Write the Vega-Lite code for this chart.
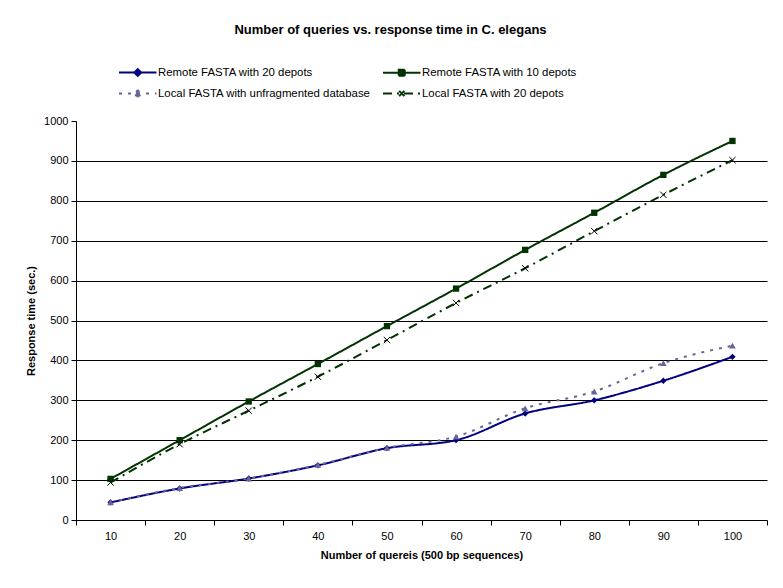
{
  "$schema": "https://vega.github.io/schema/vega-lite/v6.json",
  "autosize": {"type": "none"},
  "width": 691,
  "height": 399,
  "padding": {"left": 76, "top": 121, "right": 16, "bottom": 68},
  "background": "white",
  "config": {
    "view": {"stroke": null},
    "font": "Liberation Sans",
    "axis": {"labelFont": "Liberation Sans", "titleFont": "Liberation Sans", "labelColor": "#000", "titleColor": "#000", "domainColor": "#000", "tickColor": "#000", "labelFontSize": 11, "titleFontSize": 11, "titleFontWeight": "bold"},
    "legend": {"labelFont": "Liberation Sans", "labelFontSize": 11.4, "labelColor": "#000", "labelLimit": 400}
  },
  "title": {"text": "Number of queries vs. response time in C. elegans", "font": "Liberation Sans", "fontSize": 13, "fontWeight": "bold", "color": "#000", "anchor": "middle", "dx": -31, "offset": 27},
  "data": {"values": [
    {"q": 10, "series": "Remote FASTA with 20 depots", "t": 44},
    {"q": 20, "series": "Remote FASTA with 20 depots", "t": 79},
    {"q": 30, "series": "Remote FASTA with 20 depots", "t": 104},
    {"q": 40, "series": "Remote FASTA with 20 depots", "t": 137},
    {"q": 50, "series": "Remote FASTA with 20 depots", "t": 180},
    {"q": 60, "series": "Remote FASTA with 20 depots", "t": 200},
    {"q": 70, "series": "Remote FASTA with 20 depots", "t": 267},
    {"q": 80, "series": "Remote FASTA with 20 depots", "t": 300},
    {"q": 90, "series": "Remote FASTA with 20 depots", "t": 349},
    {"q": 100, "series": "Remote FASTA with 20 depots", "t": 409},
    {"q": 10, "series": "Remote FASTA with 10 depots", "t": 103},
    {"q": 20, "series": "Remote FASTA with 10 depots", "t": 200},
    {"q": 30, "series": "Remote FASTA with 10 depots", "t": 297},
    {"q": 40, "series": "Remote FASTA with 10 depots", "t": 391},
    {"q": 50, "series": "Remote FASTA with 10 depots", "t": 486},
    {"q": 60, "series": "Remote FASTA with 10 depots", "t": 580},
    {"q": 70, "series": "Remote FASTA with 10 depots", "t": 677},
    {"q": 80, "series": "Remote FASTA with 10 depots", "t": 770},
    {"q": 90, "series": "Remote FASTA with 10 depots", "t": 865},
    {"q": 100, "series": "Remote FASTA with 10 depots", "t": 950},
    {"q": 10, "series": "Local FASTA with unfragmented database", "t": 44},
    {"q": 20, "series": "Local FASTA with unfragmented database", "t": 80},
    {"q": 30, "series": "Local FASTA with unfragmented database", "t": 104},
    {"q": 40, "series": "Local FASTA with unfragmented database", "t": 138},
    {"q": 50, "series": "Local FASTA with unfragmented database", "t": 181},
    {"q": 60, "series": "Local FASTA with unfragmented database", "t": 209},
    {"q": 70, "series": "Local FASTA with unfragmented database", "t": 280},
    {"q": 80, "series": "Local FASTA with unfragmented database", "t": 322},
    {"q": 90, "series": "Local FASTA with unfragmented database", "t": 393},
    {"q": 100, "series": "Local FASTA with unfragmented database", "t": 437},
    {"q": 10, "series": "Local FASTA with 20 depots", "t": 94},
    {"q": 20, "series": "Local FASTA with 20 depots", "t": 190},
    {"q": 30, "series": "Local FASTA with 20 depots", "t": 274},
    {"q": 40, "series": "Local FASTA with 20 depots", "t": 359},
    {"q": 50, "series": "Local FASTA with 20 depots", "t": 451},
    {"q": 60, "series": "Local FASTA with 20 depots", "t": 544},
    {"q": 70, "series": "Local FASTA with 20 depots", "t": 631},
    {"q": 80, "series": "Local FASTA with 20 depots", "t": 724},
    {"q": 90, "series": "Local FASTA with 20 depots", "t": 815},
    {"q": 100, "series": "Local FASTA with 20 depots", "t": 902}
  ]},
  "encoding": {
    "x": {"field": "q", "type": "ordinal", "bandPosition": 0.5,
      "scale": {"type": "band", "paddingInner": 0, "paddingOuter": 0},
      "axis": {"title": "Number of quereis (500 bp sequences)", "labelAngle": 0, "tickBand": "extent", "grid": false, "tickSize": 5, "labelPadding": 5, "titlePadding": 8}},
    "y": {"field": "t", "type": "quantitative",
      "scale": {"domain": [0, 1000], "nice": false},
      "axis": {"title": "Response time (sec.)", "format": "d", "values": [0,100,200,300,400,500,600,700,800,900,1000], "grid": true, "gridColor": "#000", "gridOpacity": {"condition": {"test": "datum.value >= 1000 || datum.value <= 0", "value": 0}, "value": 1}, "tickSize": 5, "labelPadding": 3, "titlePadding": 7}}
  },
  "layer": [
    {
      "mark": {"type": "line", "interpolate": "monotone", "strokeWidth": 2},
      "encoding": {
        "color": {"field": "series", "type": "nominal",
          "scale": {"domain": ["Remote FASTA with 20 depots", "Local FASTA with unfragmented database", "Remote FASTA with 10 depots", "Local FASTA with 20 depots"],
                    "range": ["#000080", "#666699", "#003300", "#003300"]},
          "legend": {"title": null, "orient": "none", "legendX": 42, "legendY": -57, "columns": 2, "columnPadding": 8, "rowPadding": 5, "symbolSize": 225, "labelOffset": 23,
            "encode": {"symbols": {"update": {
              "shape": {"signal": "datum.value === 'Remote FASTA with 20 depots' ? 'M-1,0L4,0M1.5,-0.45L1.95,0L1.5,0.45L1.05,0Z' : datum.value === 'Remote FASTA with 10 depots' ? 'M-1,0L4,0M1.1,-0.4L1.9,-0.4L1.9,0.4L1.1,0.4Z' : datum.value === 'Local FASTA with unfragmented database' ? 'M-1,0L4,0M1.5,-0.5L1.95,0.35L1.05,0.35Z' : 'M-1,0L4,0M1.15,-0.35L1.85,0.35M1.15,0.35L1.85,-0.35'"},
              "strokeDash": {"signal": "datum.value === 'Local FASTA with unfragmented database' ? [4,5] : datum.value === 'Local FASTA with 20 depots' ? [9,5,2,5] : []"},
              "fill": {"scale": "color", "field": "value"},
              "strokeWidth": {"value": 2},
              "opacity": {"value": 1}
            }}}}},
        "strokeDash": {"field": "series", "type": "nominal", "legend": null,
          "scale": {"domain": ["Remote FASTA with 20 depots", "Local FASTA with unfragmented database", "Remote FASTA with 10 depots", "Local FASTA with 20 depots"],
                    "range": [[1,0], [3,6], [1,0], [9,5,2,5]]}}
      }
    },
    {
      "transform": [{"filter": "datum.series === 'Remote FASTA with 20 depots'"}],
      "mark": {"type": "point", "shape": "diamond", "filled": true, "opacity": 1, "color": "#000080", "size": 40}
    },
    {
      "transform": [{"filter": "datum.series === 'Remote FASTA with 10 depots'"}],
      "mark": {"type": "point", "shape": "square", "filled": true, "opacity": 1, "color": "#003300", "size": 40}
    },
    {
      "transform": [{"filter": "datum.series === 'Local FASTA with unfragmented database'"}],
      "mark": {"type": "point", "shape": "triangle-up", "filled": true, "opacity": 1, "color": "#666699", "size": 45}
    },
    {
      "transform": [{"filter": "datum.series === 'Local FASTA with 20 depots'"}],
      "mark": {"type": "point", "shape": "M-1,-1L1,1M-1,1L1,-1", "filled": false, "opacity": 1, "color": "#000000", "strokeWidth": 1, "size": 40}
    }
  ]
}
